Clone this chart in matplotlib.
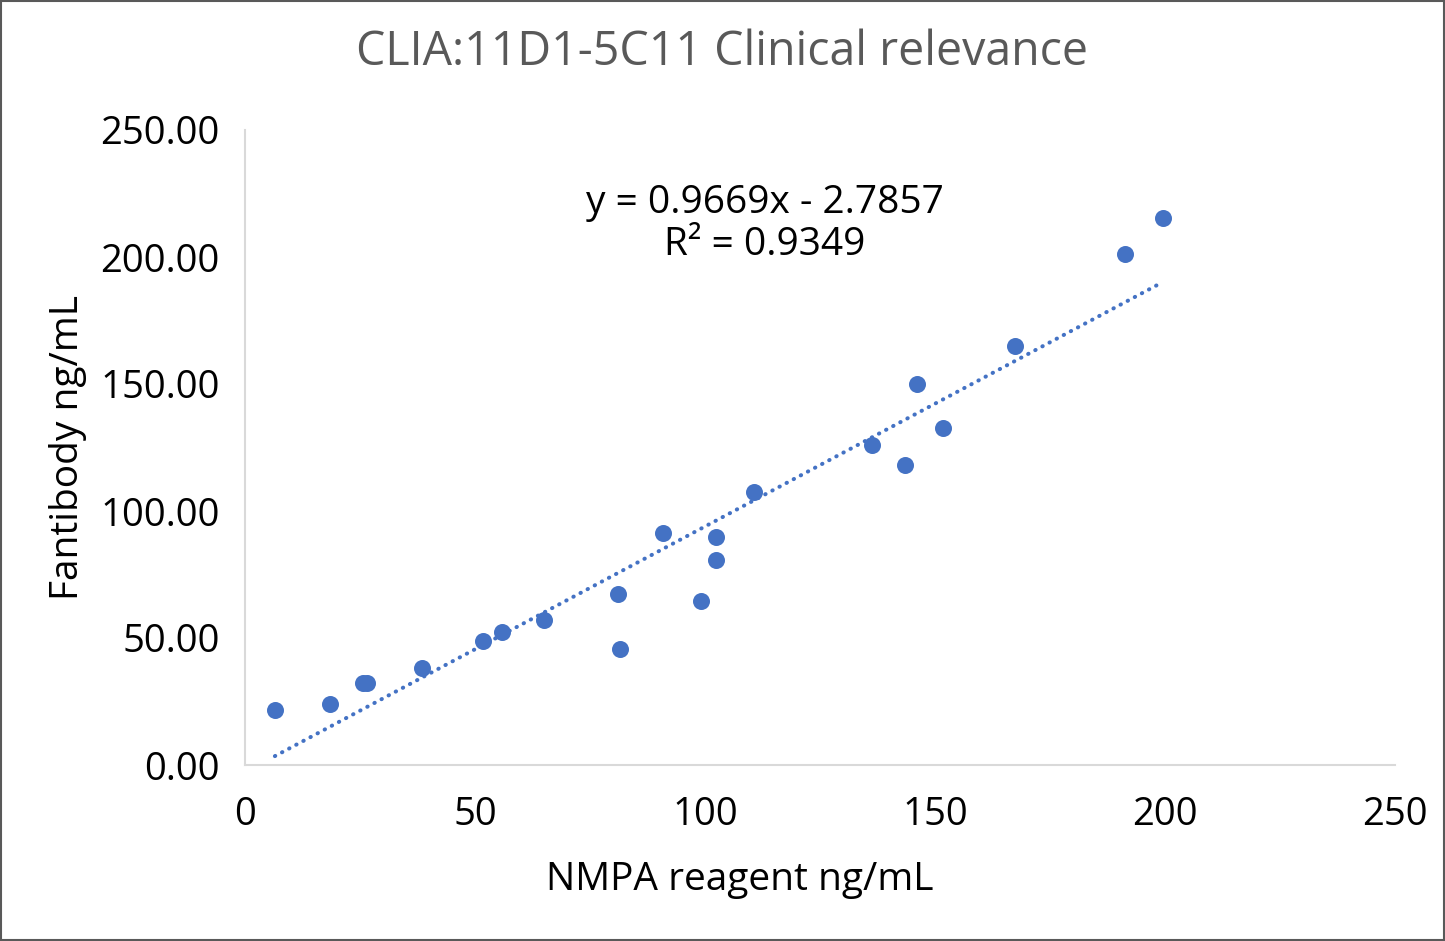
import numpy as np
import matplotlib
matplotlib.use("Agg")
import matplotlib.pyplot as plt
from matplotlib.patches import Rectangle

# NMPA reagent vs Fantibody (ng/mL)
nmpa = [6.5, 18.5, 25.7, 26.6, 38.5, 51.7, 55.9, 65.0, 81.1, 81.5, 90.9,
        99.1, 102.4, 102.4, 110.7, 136.3, 143.5, 146.0, 151.7, 167.4, 191.3, 199.6]
fanti = [21.7, 24.0, 32.3, 32.3, 38.2, 48.8, 52.4, 57.1, 67.3, 45.7, 91.3,
         64.6, 89.8, 80.7, 107.5, 126.0, 118.1, 150.0, 132.7, 165.0, 201.2, 215.4]

slope = 0.9669
intercept = -2.7857
r2 = 0.9349

blue = "#4472C4"
plt.rcParams['font.family'] = ['Open Sans', 'DejaVu Sans']

fig = plt.figure(figsize=(14.45, 9.41), dpi=100)
ax = fig.add_axes([245 / 1445, 1 - 765 / 941, 1150 / 1445, 635 / 941])

ax.scatter(nmpa, fanti, s=150, color=blue, zorder=3, linewidths=0)

# linear trendline over the data range
xs = np.array([min(nmpa), max(nmpa)])
ax.plot(xs, slope * xs + intercept, color=blue, lw=2.9,
        linestyle=(0, (0.1, 1.9)), dash_capstyle='round', zorder=2)

ax.set_xlim(0, 250)
ax.set_ylim(0, 250)
ax.set_xticks(np.arange(0, 251, 50))
ax.set_yticks(np.arange(0, 251, 50))
ax.set_yticklabels(["%.2f" % v for v in np.arange(0, 251, 50)])
ax.tick_params(length=0, labelsize=27.5, colors='black')
ax.tick_params(axis='x', pad=22)
ax.tick_params(axis='y', pad=18)

for s in ['top', 'right']:
    ax.spines[s].set_visible(False)
for s in ['left', 'bottom']:
    ax.spines[s].set_color('#D9D9D9')
    ax.spines[s].set_linewidth(1.5)

ax.set_xlabel("NMPA reagent ng/mL", fontsize=28, labelpad=20)
ax.xaxis.label.set_x(0.43)
ax.set_ylabel("Fantibody ng/mL", fontsize=28, labelpad=10)

fig.text(0.5, 1 - 52 / 941, "CLIA:11D1-5C11 Clinical relevance", fontsize=33.5,
         color='#595959', ha='center', va='center')

ax.text(0.452, 0.852,
        "y = %.4fx - %.4f\nR\u00b2 = %.4f" % (slope, -intercept, r2),
        transform=ax.transAxes, fontsize=28, ha='center', va='center',
        linespacing=1.12)

fig.add_artist(Rectangle((0.001, 0.001), 0.998, 0.998, transform=fig.transFigure,
                         fill=False, edgecolor='#595959', lw=1.5))

fig.savefig("out.png", dpi=100)
